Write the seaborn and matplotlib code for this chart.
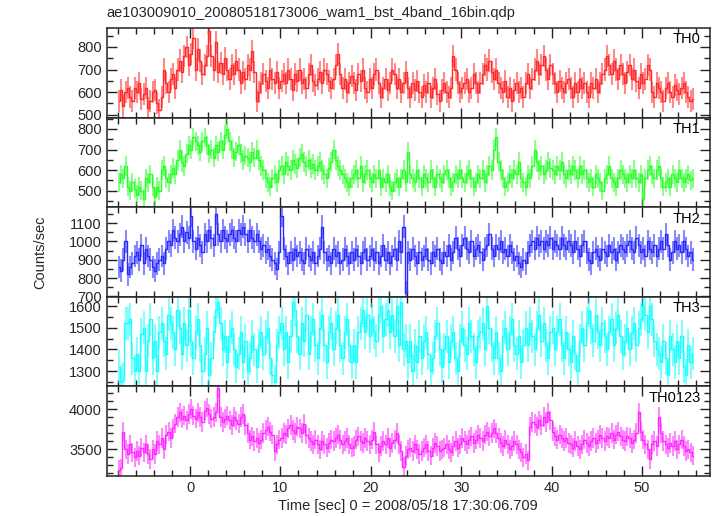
import numpy as np
import pandas as pd
import matplotlib
matplotlib.use("Agg")
import matplotlib.pyplot as plt
import seaborn as sns
from matplotlib.ticker import MultipleLocator

title = "ae103009010_20080518173006_wam1_bst_4band_16bin.qdp"
xlabel = "Time [sec] 0 = 2008/05/18 17:30:06.709"
ylabel = "Counts/sec"

t_first = -7.875
bin_width = 0.25

th0 = [
    560, 610, 540, 600, 620, 580, 560, 620,
    600, 640, 570, 590, 620, 530, 560, 600,
    610, 550, 520, 580, 700, 640, 600, 660,
    680, 620, 700, 740, 690, 760, 800, 720,
    770, 840, 700, 790, 740, 680, 720, 760,
    870, 760, 700, 820, 690, 730, 680, 750,
    700, 660, 720, 680, 740, 700, 640, 690,
    660, 720, 700, 780, 690, 560, 600, 640,
    680, 650, 620, 700, 660, 640, 690, 620,
    650, 680, 640, 700, 660, 610, 680, 650,
    700, 640, 660, 620, 680, 720, 650, 630,
    660, 690, 640, 700, 680, 650, 620, 660,
    720, 770, 680, 620, 660, 600, 640, 670,
    640, 610, 680, 650, 700, 620, 600, 660,
    620, 680, 700, 640, 580, 620, 660, 610,
    640, 700, 680, 620, 660, 600, 640, 690,
    620, 580, 640, 610, 650, 600, 580, 630,
    600, 640, 580, 620, 660, 590, 560, 610,
    640, 600, 580, 620, 760, 700, 640, 600,
    620, 640, 660, 600, 620, 680, 640, 600,
    640, 680, 720, 700, 740, 690, 660, 700,
    640, 620, 600, 650, 580, 620, 560, 610,
    640, 600, 620, 580, 640, 680, 620, 660,
    700, 740, 680, 720, 760, 700, 660, 720,
    680, 640, 600, 650, 620, 600, 640, 660,
    620, 580, 640, 600, 660, 620, 640, 600,
    580, 640, 620, 660, 600, 640, 680, 700,
    760, 720, 680, 740, 700, 660, 720, 680,
    640, 690, 720, 660, 700, 650, 620, 680,
    640, 660, 720, 700, 600, 580, 640, 620,
    600, 560, 620, 640, 600, 580, 630, 610,
    590, 620, 640, 600, 580, 560, 570,
]

th1 = [
    540, 580, 560, 620, 520, 500, 540, 510,
    480, 520, 500, 460, 560, 540, 580, 520,
    470, 520, 500, 600, 620, 560, 540, 580,
    610, 580, 650, 700, 640, 620, 680, 720,
    700, 760, 740, 720, 690, 740, 760, 720,
    680, 700, 660, 720, 690, 740, 700, 770,
    800, 740, 700, 660, 690, 720, 680, 650,
    670, 660, 640, 690, 660, 700, 650, 620,
    600, 560, 540, 520, 560, 580, 540, 600,
    620, 580, 640, 620, 600, 650, 630, 610,
    660, 680, 640, 620, 650, 610, 630, 600,
    620, 640, 600, 580, 560, 610, 640, 700,
    650, 620, 600, 580, 560, 540, 520, 560,
    580, 600, 560, 620, 540, 580, 600, 560,
    540, 580, 560, 600, 520, 560, 540, 580,
    520, 500, 540, 560, 520, 560, 600, 540,
    690, 580, 560, 540, 600, 560, 520, 580,
    560, 540, 600, 560, 520, 580, 560, 540,
    580, 600, 560, 520, 540, 580, 560, 600,
    560, 540, 580, 600, 560, 520, 540, 580,
    560, 600, 540, 580, 620, 600, 700, 760,
    640, 600, 560, 520, 540, 580, 560, 600,
    580, 640, 560, 540, 520, 580, 560, 620,
    700, 640, 600, 620, 580, 600, 640, 610,
    600, 580, 620, 600, 640, 580, 560, 600,
    580, 620, 600, 560, 620, 580, 600, 560,
    540, 560, 520, 580, 560, 540, 500, 560,
    580, 620, 560, 540, 520, 560, 600, 580,
    560, 540, 580, 560, 600, 560, 540, 580,
    460, 560, 600, 620, 580, 560, 600, 620,
    560, 520, 540, 560, 520, 580, 560, 540,
    600, 560, 540, 560, 580, 550, 560,
]

th2 = [
    860, 840, 900, 1000, 820, 860, 880, 920,
    940, 900, 980, 880, 960, 920, 900, 860,
    840, 880, 900, 920, 880, 960, 1000, 980,
    1060, 1020, 1000, 1040, 1080, 1000, 1050, 1020,
    1140, 1000, 960, 1020, 980, 940, 1040, 1000,
    1060, 1020, 980, 1150, 1040, 1000, 1060, 1020,
    1000, 1040, 1060, 1020, 1000, 1060, 1040, 1080,
    1040, 1000, 1060, 1020, 1000, 1040, 1000, 960,
    980, 940, 960, 920, 900, 880, 850, 940,
    1140, 960, 920, 880, 940, 900, 960, 920,
    940, 900, 880, 960, 920, 900, 940, 880,
    920, 960, 1080, 940, 900, 920, 880, 960,
    920, 940, 880, 900, 960, 920, 880, 940,
    900, 960, 920, 880, 940, 960, 900, 920,
    960, 900, 940, 880, 920, 980, 900, 940,
    880, 920, 960, 900, 1000, 940, 1080, 720,
    940, 900, 960, 920, 880, 940, 900, 920,
    960, 900, 880, 940, 920, 960, 900, 880,
    940, 920, 980, 900, 940, 1020, 960, 920,
    980, 1020, 960, 940, 1000, 920, 960, 980,
    940, 900, 960, 980, 1040, 960, 920, 980,
    960, 1000, 940, 960, 920, 980, 940, 900,
    920, 880, 860, 900, 880, 940, 980, 1000,
    960, 1020, 980, 1000, 960, 1000, 980, 1020,
    960, 1000, 980, 960, 1020, 980, 960, 1000,
    980, 940, 1000, 960, 920, 980, 1000, 940,
    900, 880, 940, 960, 920, 900, 960, 940,
    920, 980, 940, 960, 900, 940, 980, 960,
    940, 980, 1000, 960, 940, 1020, 980, 940,
    960, 920, 1000, 960, 940, 980, 920, 960,
    1000, 960, 1040, 980, 900, 940, 1000, 960,
    980, 940, 1000, 960, 920, 940, 900,
]

th3 = [
    1320, 1250, 1260, 1520, 1520, 1540, 1360, 1300,
    1380, 1300, 1470, 1500, 1300, 1440, 1540, 1360,
    1440, 1300, 1480, 1520, 1440, 1380, 1560, 1520,
    1480, 1400, 1580, 1500, 1380, 1520, 1420, 1580,
    1440, 1360, 1480, 1540, 1420, 1300, 1380, 1500,
    1280, 1360, 1480, 1580, 1620, 1520, 1400, 1460,
    1340, 1460, 1500, 1400, 1320, 1380, 1480, 1340,
    1440, 1300, 1360, 1460, 1400, 1320, 1420, 1480,
    1380, 1460, 1500, 1360, 1280, 1250, 1420, 1480,
    1520, 1400, 1480, 1340, 1460, 1620, 1580, 1460,
    1380, 1520, 1440, 1560, 1380, 1480, 1540, 1420,
    1360, 1500, 1560, 1420, 1340, 1480, 1520, 1400,
    1500, 1560, 1420, 1360, 1480, 1540, 1420, 1340,
    1420, 1340, 1480, 1520, 1580, 1480, 1560, 1460,
    1540, 1480, 1440, 1560, 1600, 1460, 1540, 1580,
    1480, 1560, 1460, 1600, 1420, 1620, 1400, 1440,
    1340, 1440, 1300, 1420, 1340, 1460, 1360, 1440,
    1480, 1380, 1300, 1360, 1460, 1520, 1400, 1320,
    1400, 1460, 1340, 1440, 1480, 1360, 1300, 1440,
    1500, 1420, 1380, 1520, 1460, 1400, 1340, 1460,
    1480, 1520, 1400, 1600, 1500, 1420, 1360, 1480,
    1360, 1300, 1460, 1500, 1400, 1480, 1540, 1420,
    1380, 1460, 1340, 1420, 1500, 1420, 1520, 1460,
    1400, 1500, 1560, 1440, 1520, 1420, 1360, 1480,
    1500, 1400, 1480, 1540, 1420, 1360, 1480, 1400,
    1340, 1460, 1380, 1300, 1440, 1500, 1420, 1520,
    1580, 1500, 1440, 1560, 1480, 1420, 1520, 1460,
    1400, 1480, 1540, 1420, 1500, 1560, 1460, 1380,
    1440, 1500, 1400, 1480, 1520, 1420, 1500, 1540,
    1600, 1560, 1480, 1600, 1540, 1440, 1400, 1380,
    1340, 1440, 1360, 1280, 1460, 1400, 1340, 1440,
    1360, 1460, 1320, 1280, 1420, 1340, 1380,
]

th0123 = [
    3240, 3260, 3720, 3500, 3440, 3560, 3460, 3400,
    3480, 3420, 3520, 3460, 3560, 3440, 3380, 3500,
    3440, 3600, 3560, 3640, 3500, 3680, 3720, 3640,
    3760, 3820, 3900, 3960, 3880, 3920, 3860, 3940,
    4000, 3920, 3880, 3960, 3900, 3840, 3980, 4020,
    3940, 3880, 3900, 3960, 4260, 3900, 3840, 3880,
    3920, 3860, 3800, 3900, 3860, 3820, 3900, 3940,
    3800, 3700, 3620, 3660, 3600, 3640, 3580, 3620,
    3700, 3740, 3780, 3720, 3680, 3480, 3560, 3620,
    3640, 3700, 3680, 3760, 3800, 3740, 3700, 3780,
    3760, 3700, 3820, 3680, 3640, 3600, 3560, 3620,
    3560, 3500, 3600, 3560, 3520, 3580, 3620, 3600,
    3640, 3680, 3620, 3560, 3600, 3640, 3560, 3520,
    3540, 3620, 3660, 3600, 3580, 3640, 3600, 3560,
    3620, 3720, 3560, 3460, 3540, 3600, 3560, 3640,
    3520, 3580, 3620, 3700, 3560, 3480, 3280, 3420,
    3500, 3520, 3480, 3560, 3500, 3440, 3480, 3520,
    3560, 3480, 3420, 3520, 3580, 3540, 3480, 3500,
    3520, 3560, 3500, 3460, 3540, 3600, 3520, 3560,
    3640, 3600, 3560, 3620, 3660, 3580, 3620, 3680,
    3640, 3600, 3680, 3720, 3660, 3700, 3760, 3700,
    3640, 3580, 3540, 3620, 3560, 3500, 3540, 3600,
    3560, 3500, 3460, 3400, 3440, 3360, 3780, 3840,
    3820, 3780, 3860, 3800, 3900, 3840, 3960, 3860,
    3720, 3660, 3620, 3680, 3640, 3600, 3640, 3580,
    3560, 3520, 3600, 3540, 3500, 3560, 3620, 3580,
    3540, 3600, 3640, 3580, 3620, 3680, 3640, 3600,
    3660, 3640, 3700, 3620, 3680, 3720, 3660, 3620,
    3600, 3660, 3640, 3580, 3620, 3700, 3960, 3720,
    3620, 3560, 3500, 3380, 3560, 3600, 3540, 3900,
    3700, 3600, 3560, 3520, 3580, 3540, 3600, 3500,
    3560, 3620, 3540, 3480, 3500, 3460, 3420,
]

bands = ["TH0", "TH1", "TH2", "TH3", "TH0123"]
series = [th0, th1, th2, th3, th0123]
errors = [49, 47, 62, 76, 121]
colors = ["#ff2a2a", "#2aff2a", "#2a2aff", "#1affff", "#ff2aff"]
ylims = [(487, 884), (420, 855), (698, 1187), (1229, 1643), (3166, 4283)]
majors = [100, 100, 100, 100, 500]
minors = [50, 50, 50, 50, 100]
xlim = (-9.2, 57.5)

sns.set_style("ticks")
plt.rcParams["font.family"] = ["Liberation Sans", "DejaVu Sans"]

fig = plt.figure(figsize=(7.17, 5.16), dpi=100)
left, right, top, bottom = 0.149, 0.990, 0.9457, 0.0775
h = (top - bottom) / 5

for i, (band, vals) in enumerate(zip(bands, series)):
    ax = fig.add_axes([left, top - (i + 1) * h, right - left, h])
    n = len(vals)
    df = pd.DataFrame({"time": t_first + bin_width * np.arange(n), "rate": vals})
    col = colors[i]
    ax.errorbar(df["time"], df["rate"], yerr=errors[i], fmt="none",
                ecolor=col, elinewidth=1.5, alpha=0.55, capsize=0)
    sns.lineplot(data=df, x="time", y="rate", ax=ax, color=col, lw=1.0,
                 drawstyle="steps-mid", legend=False, errorbar=None)
    ax.set_xlim(*xlim)
    ax.set_ylim(*ylims[i])
    ax.xaxis.set_major_locator(MultipleLocator(10))
    ax.xaxis.set_minor_locator(MultipleLocator(2))
    ax.yaxis.set_major_locator(MultipleLocator(majors[i]))
    ax.yaxis.set_minor_locator(MultipleLocator(minors[i]))
    ax.tick_params(which="both", direction="in", top=True, right=True,
                   bottom=True, left=True, width=1.0, color="#222222")
    ax.tick_params(which="major", length=7, labelsize=10.5)
    ax.tick_params(which="minor", length=4)
    for s in ax.spines.values():
        s.set_linewidth(1.1)
        s.set_color("#222222")
    ax.set_xlabel("")
    ax.set_ylabel("")
    if i < 4:
        ax.tick_params(labelbottom=False)
    else:
        ax.set_xlabel(xlabel, fontsize=10.5, labelpad=3)
    ax.text(0.985, 0.95, band, transform=ax.transAxes, ha="right", va="top",
            fontsize=10.5, color="black")

fig.text(left, 1 - 13 / 516, title, ha="left", va="center", fontsize=10.5)
fig.text(40 / 717, 1 - 252 / 516, ylabel, rotation=90, ha="center",
         va="center", fontsize=10.5)

fig.savefig("out.png", dpi=100)
